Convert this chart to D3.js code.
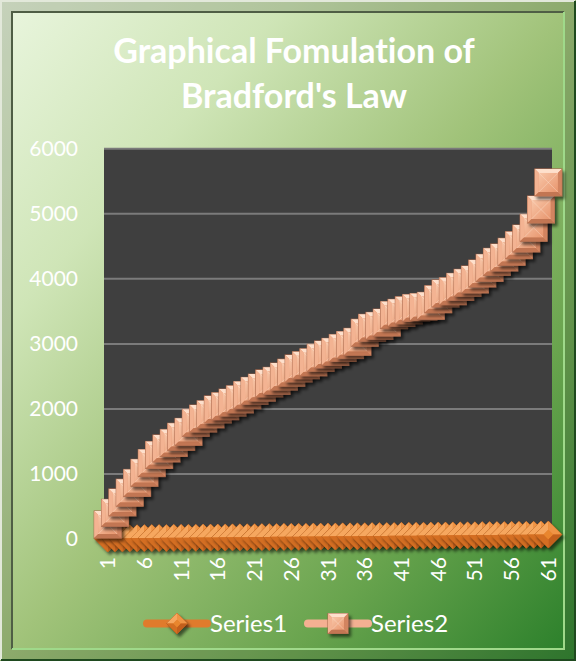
<!DOCTYPE html>
<html>
<head>
<meta charset="utf-8">
<script src="https://cdn.jsdelivr.net/npm/d3@7"></script>
<style>
  body { margin: 0; background: #fff; }
  svg { display: block; }
  text { font-family: Lato, "Open Sans", sans-serif; font-variant-ligatures: none; }
</style>
</head>
<body>
<script>
const w = 576;
const h = 661;

// chart data
const categories = [1, 2, 3, 4, 5, 6, 7, 8, 9, 10, 11, 12, 13, 14, 15, 16, 17, 18, 19, 20,
  21, 22, 23, 24, 25, 26, 27, 28, 29, 30, 31, 32, 33, 34, 35, 36, 37, 38, 39, 40,
  41, 42, 43, 44, 45, 46, 47, 48, 49, 50, 51, 52, 53, 54, 55, 56, 57, 58, 59, 60, 61];
const series1 = [1, 2, 3, 4, 5, 6, 7, 8, 9, 10, 11, 12, 13, 14, 15, 16, 17, 18, 19, 20,
  21, 22, 23, 24, 25, 26, 27, 28, 29, 30, 31, 32, 33, 34, 35, 36, 37, 38, 39, 40,
  41, 42, 43, 44, 45, 46, 47, 48, 49, 50, 51, 52, 53, 54, 55, 56, 57, 58, 59, 60, 61];
const series2 = [215, 395, 555, 705, 855, 1010, 1160, 1285, 1385, 1470,
  1565, 1640, 1780, 1845, 1910, 1985, 2035, 2090, 2140, 2205,
  2270, 2320, 2385, 2425, 2490, 2550, 2615, 2665, 2710, 2780,
  2830, 2870, 2930, 2975, 3025, 3165, 3240, 3270, 3320, 3435,
  3470, 3510, 3545, 3560, 3578, 3680, 3768, 3803, 3870, 3932,
  3983, 4075, 4162, 4255, 4321, 4409, 4511, 4613, 4778, 5059, 5475];
const yTicks = [0, 1000, 2000, 3000, 4000, 5000, 6000];
const xTickLabels = [1, 6, 11, 16, 21, 26, 31, 36, 41, 46, 51, 56, 61];
const seriesNames = ["Series1", "Series2"];
const titleLines = ["Graphical Fomulation of", "Bradford's Law"];

const plot = { left: 104, right: 552, top: 148.3, bottom: 538.5 };

const svg = d3.select("body").append("svg").attr("width", w).attr("height", h);
const defs = svg.append("defs");

// background gradient
const bg = defs.append("linearGradient").attr("id", "bg")
  .attr("x1", 0).attr("y1", 0).attr("x2", 1).attr("y2", 1);
[["0%", "#eaf6df"], ["25%", "#cfe5b7"], ["50%", "#a1c37a"], ["75%", "#69a44e"], ["100%", "#287e29"]]
  .forEach(s => bg.append("stop").attr("offset", s[0]).attr("stop-color", s[1]));

const shadow = defs.append("filter").attr("id", "shadow")
  .attr("x", "-50%").attr("y", "-50%").attr("width", "200%").attr("height", "200%");
shadow.append("feDropShadow").attr("dx", 2.5).attr("dy", 3).attr("stdDeviation", 1.6)
  .attr("flood-color", "#000").attr("flood-opacity", 0.55);

const sqFace = defs.append("linearGradient").attr("id", "sqFace")
  .attr("x1", 0).attr("y1", 0).attr("x2", 1).attr("y2", 1);
sqFace.append("stop").attr("offset", "0%").attr("stop-color", "#f8c6a8");
sqFace.append("stop").attr("offset", "100%").attr("stop-color", "#e8966e");

// frame
svg.append("rect").attr("width", w).attr("height", h).attr("fill", "url(#bg)");
svg.append("path")
  .attr("d", `M0,0H${w}V${h}H0Z M12,12V649H564V12Z`)
  .attr("fill-rule", "evenodd")
  .attr("fill", "rgba(70,80,60,0.22)");
svg.append("path").attr("d", `M1,${h - 1}V1H${w - 1}`).attr("fill", "none")
  .attr("stroke", "#e2e8da").attr("stroke-width", 2);
svg.append("path").attr("d", `M1,${h - 1}H${w - 1}V1`).attr("fill", "none")
  .attr("stroke", "#1f4a1f").attr("stroke-width", 2);
svg.append("path").attr("d", "M12,649V12H564").attr("fill", "none")
  .attr("stroke", "#4f5e45").attr("stroke-width", 2);
svg.append("path").attr("d", "M12,649H564V12").attr("fill", "none")
  .attr("stroke", "#9fd98a").attr("stroke-width", 2);

// title
svg.append("g").selectAll("text")
  .data(titleLines)
  .enter()
  .append("text")
  .attr("x", 294)
  .attr("y", (d, i) => 63 + i * 45)
  .attr("text-anchor", "middle")
  .attr("fill", "#fff")
  .style("font-size", "34px")
  .style("font-weight", "bold")
  .text(d => d);

// scales
const xScale = d3.scaleBand().domain(categories).range([plot.left, plot.right]);
const cx = d => xScale(d) + xScale.bandwidth() / 2;
const yScale = d3.scaleLinear().domain([0, 6000]).range([plot.bottom, plot.top]);

// plot area
svg.append("rect")
  .attr("x", plot.left).attr("y", plot.top)
  .attr("width", plot.right - plot.left).attr("height", plot.bottom - plot.top)
  .attr("fill", "#3f3f3f");

const grid = svg.append("g")
  .attr("transform", "translate(" + plot.left + ",0)")
  .call(d3.axisLeft(yScale).tickValues(yTicks).tickSize(-(plot.right - plot.left)).tickFormat(""));
grid.select(".domain").remove();
grid.selectAll("line").attr("stroke", "#7b7b7b").attr("stroke-width", 2);

const yAxis = svg.append("g")
  .attr("transform", "translate(" + plot.left + ",0)")
  .call(d3.axisLeft(yScale).tickValues(yTicks).tickFormat(d3.format("d")).tickSize(0).tickPadding(26));
yAxis.select(".domain").remove();
yAxis.selectAll("text")
  .attr("fill", "#fff")
  .style("font-family", "Lato, sans-serif")
  .style("font-size", "21px");

const xAxis = svg.append("g")
  .attr("transform", "translate(0,557)")
  .call(d3.axisBottom(xScale).tickValues(xTickLabels).tickSize(0));
xAxis.select(".domain").remove();
xAxis.selectAll("text")
  .attr("transform", "rotate(-90)")
  .attr("x", 0)
  .attr("y", 0)
  .attr("dy", "0.36em")
  .attr("text-anchor", "end")
  .attr("fill", "#fff")
  .style("font-family", "Lato, sans-serif")
  .style("font-size", "21px");

// markers
const drawDiamond = (g, r) => {
  g.append("path").attr("d", `M0,${-r}L${r},0L0,${r}L${-r},0Z`)
    .attr("fill", "#df7a2a").attr("stroke", "#a8561b").attr("stroke-width", 0.8);
  const k = r * 0.35;
  g.append("path").attr("d", `M${-r},0L0,${-r}L0,${-k}L${-k},0Z`).attr("fill", "#f6a75e");
  g.append("path").attr("d", `M0,${-r}L${r},0L${k},0L0,${-k}Z`).attr("fill", "#ef9444");
  g.append("path").attr("d", `M${r},0L0,${r}L0,${k}L${k},0Z`).attr("fill", "#c25f1c");
  g.append("path").attr("d", `M0,${r}L${-r},0L${-k},0L0,${k}Z`).attr("fill", "#d46e22");
  g.append("path").attr("d", `M0,${-k}L${k},0L0,${k}L${-k},0Z`).attr("fill", "#e9862f");
};

const drawSquare = (g, r) => {
  const b = r - 4;
  g.append("rect").attr("x", -r).attr("y", -r).attr("width", 2 * r).attr("height", 2 * r)
    .attr("fill", "#e59670").attr("stroke", "#a9694d").attr("stroke-width", 1);
  g.append("path").attr("d", `M${-r},${-r}H${r}L${b},${-b}H${-b}Z`).attr("fill", "#fee0cc");
  g.append("path").attr("d", `M${-r},${-r}L${-b},${-b}V${b}L${-r},${r}Z`).attr("fill", "#f3b392");
  g.append("path").attr("d", `M${r},${-r}V${r}L${b},${b}V${-b}Z`).attr("fill", "#d28460");
  g.append("path").attr("d", `M${-r},${r}H${r}L${b},${b}H${-b}Z`).attr("fill", "#c27652");
  g.append("rect").attr("x", -b).attr("y", -b).attr("width", 2 * b).attr("height", 2 * b)
    .attr("fill", "url(#sqFace)");
  g.append("path").attr("d", `M${-b},${-b}L${b},${b}M${b},${-b}L${-b},${b}`)
    .attr("stroke", "rgba(255,235,220,0.35)").attr("stroke-width", 1);
};

const seriesList = [
  { values: series1, line: "#e07b2c", shape: drawDiamond, r: 13.5 },
  { values: series2, line: "#f4b092", shape: drawSquare, r: 13.5 }
];

seriesList.forEach(s => {
  const line = d3.line().x((d, i) => cx(categories[i])).y(d => yScale(d));
  svg.append("path")
    .datum(s.values)
    .attr("fill", "none")
    .attr("stroke", s.line)
    .attr("stroke-width", 7)
    .attr("d", line);

  svg.append("g")
    .selectAll("g")
    .data(s.values)
    .enter()
    .append("g")
    .attr("filter", "url(#shadow)")
    .attr("transform", (d, i) => "translate(" + cx(categories[i]) + "," + yScale(d) + ")")
    .each(function () { s.shape(d3.select(this), s.r); });
});

// legend
const legendX = [147, 308];
const legend = svg.append("g");
seriesNames.forEach((name, i) => {
  const lg = legend.append("g").attr("transform", "translate(" + legendX[i] + ",623.5)");
  lg.append("line").attr("x1", 0).attr("x2", 60).attr("y1", 0).attr("y2", 0)
    .attr("stroke", seriesList[i].line).attr("stroke-width", 8).attr("stroke-linecap", "round");
  const m = lg.append("g").attr("transform", "translate(30,0)").attr("filter", "url(#shadow)");
  seriesList[i].shape(m, i === 0 ? 10.5 : 10);
  lg.append("text")
    .attr("x", 63)
    .attr("y", 0)
    .attr("dy", "0.35em")
    .attr("fill", "#fff")
    .style("font-size", "24px")
    .text(name);
});
</script>
</body>
</html>
